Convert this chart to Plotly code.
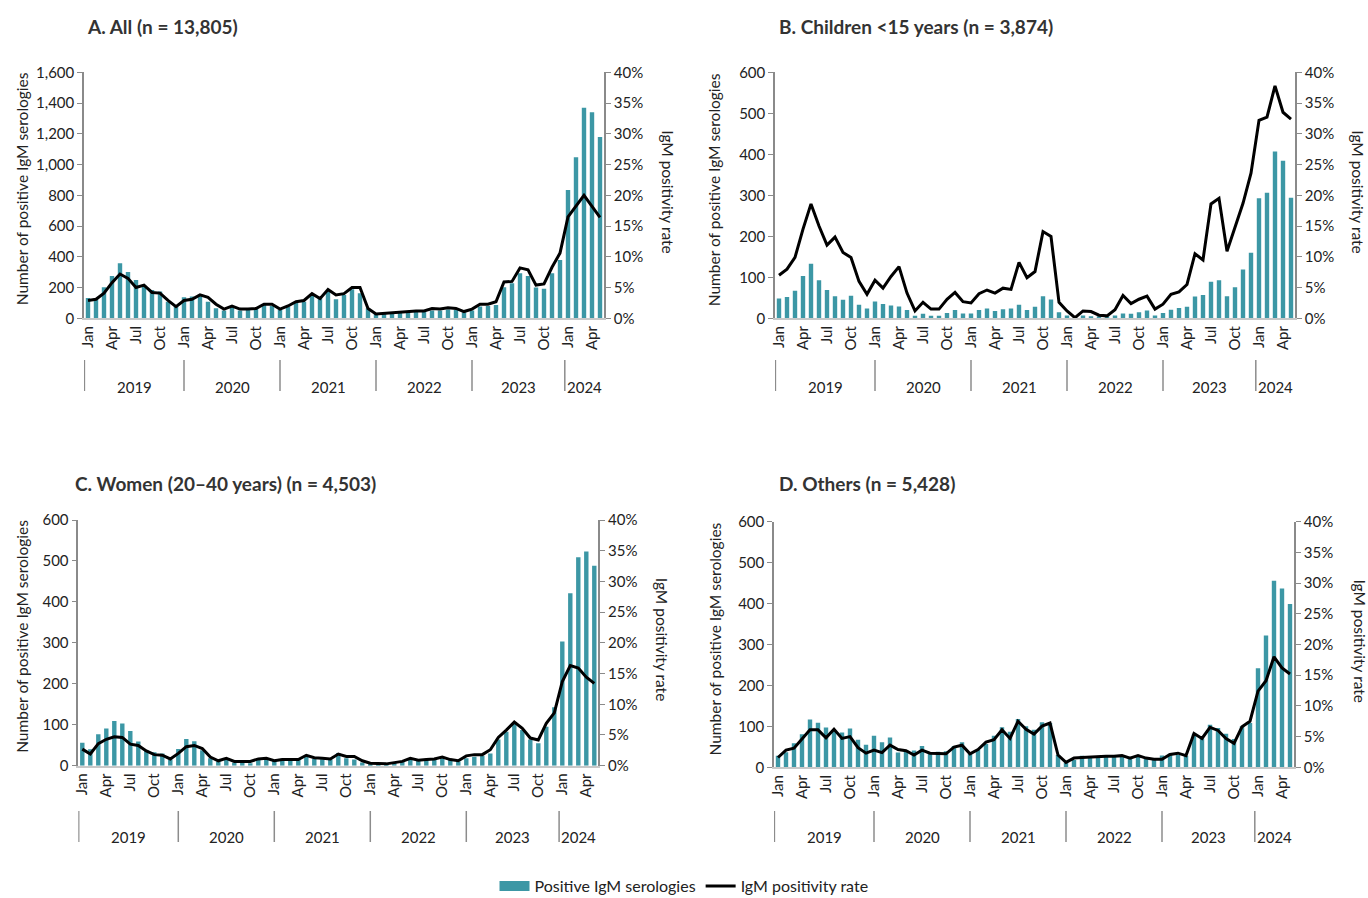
import plotly.graph_objects as go

# ---------------- data (monthly, Jan 2019 – May 2024) ----------------
years = ["2019", "2020", "2021", "2022", "2023", "2024"]
month_names = ["Jan", "Feb", "Mar", "Apr", "May", "Jun", "Jul", "Aug", "Sep", "Oct", "Nov", "Dec"]
n_months = 65

a_counts = [132, 124, 202, 275, 358, 301, 249, 206, 184, 175, 108, 80,
            137, 141, 145, 108, 65, 50, 76, 50, 58, 65, 87, 80,
            54, 76, 102, 108, 145, 130, 180, 124, 152, 189, 163, 65,
            28, 28, 37, 39, 39, 43, 46, 50, 50, 58, 54, 39,
            50, 76, 80, 87, 202, 228, 293, 275, 200, 193, 293, 380,
            835, 1047, 1370, 1340, 1179]
a_rate = [2.9, 3.1, 4.1, 5.8, 7.2, 6.5, 5.0, 5.4, 4.2, 4.1, 2.9, 1.9,
          2.9, 3.1, 3.8, 3.4, 2.3, 1.5, 2.0, 1.5, 1.5, 1.6, 2.3, 2.3,
          1.5, 2.0, 2.7, 2.9, 4.0, 3.2, 4.7, 3.8, 4.0, 5.0, 5.0, 1.6,
          0.7, 0.8, 1.0, 1.1, 1.1, 1.2, 1.2, 1.6, 1.5, 1.7, 1.6, 1.1,
          1.5, 2.3, 2.3, 2.7, 5.9, 6.0, 8.2, 7.9, 5.4, 5.6, 8.3, 10.6,
          16.5, 18.2, 20.0, 18.2, 16.4]

b_counts = [48, 52, 67, 103, 133, 93, 69, 54, 45, 55, 33, 24,
            41, 35, 31, 29, 20, 6, 11, 6, 6, 13, 20, 12,
            12, 20, 24, 18, 22, 24, 33, 20, 28, 54, 46, 15,
            7, 4, 7, 5, 3, 3, 7, 12, 11, 15, 19, 7,
            13, 21, 25, 28, 53, 57, 89, 93, 54, 76, 119, 160,
            293, 306, 407, 384, 294]
b_rate = [7.0, 8.0, 9.9, 14.5, 18.6, 15.0, 11.9, 13.2, 10.7, 9.9, 6.0, 3.9,
          6.2, 4.9, 6.8, 8.4, 4.1, 1.2, 2.6, 1.5, 1.5, 3.1, 4.2, 2.7,
          2.5, 4.0, 4.6, 4.1, 4.9, 4.7, 9.1, 6.6, 7.6, 14.1, 13.3, 2.6,
          1.2, 0.1, 1.2, 1.1, 0.5, 0.4, 1.4, 3.7, 2.4, 3.1, 3.6, 1.5,
          2.3, 3.9, 4.3, 5.5, 10.5, 9.5, 18.6, 19.5, 10.9, 14.9, 18.7, 23.6,
          32.2, 32.7, 37.8, 33.5, 32.4]

c_counts = [56, 40, 77, 91, 109, 103, 85, 59, 38, 33, 30, 15,
            41, 65, 60, 38, 18, 10, 15, 7, 8, 6, 16, 16,
            12, 17, 15, 15, 24, 17, 16, 15, 31, 18, 15, 8,
            4, 4, 4, 7, 10, 15, 12, 14, 15, 18, 14, 10,
            18, 22, 24, 30, 64, 83, 103, 87, 64, 55, 95, 143,
            303, 421, 509, 523, 488]
c_rate = [2.7, 1.9, 3.6, 4.3, 4.7, 4.6, 3.5, 3.3, 2.4, 1.8, 1.7, 1.1,
          2.0, 3.1, 3.3, 2.8, 1.4, 0.8, 1.2, 0.7, 0.7, 0.7, 1.1, 1.2,
          0.8, 1.0, 1.0, 1.0, 1.7, 1.3, 1.2, 1.1, 1.9, 1.5, 1.5, 0.8,
          0.4, 0.4, 0.3, 0.5, 0.7, 1.2, 0.9, 1.0, 1.1, 1.4, 1.0, 0.8,
          1.6, 1.8, 1.8, 2.6, 4.6, 5.8, 7.1, 6.1, 4.5, 4.2, 6.9, 8.6,
          13.7, 16.3, 15.9, 14.4, 13.4]

d_counts = [28, 37, 59, 81, 117, 109, 97, 91, 85, 95, 67, 55,
            77, 61, 73, 36, 42, 41, 52, 37, 38, 39, 52, 61,
            33, 42, 57, 77, 98, 87, 118, 100, 92, 110, 108, 30,
            11, 18, 28, 26, 26, 30, 29, 30, 26, 29, 24, 20,
            29, 33, 30, 28, 82, 71, 104, 96, 82, 69, 100, 108,
            242, 322, 456, 437, 399]
d_rate = [1.6, 2.8, 3.1, 4.6, 6.1, 6.1, 4.8, 6.2, 4.7, 5.0, 3.2, 2.3,
          2.8, 2.4, 3.6, 2.9, 2.7, 2.0, 2.8, 2.3, 2.2, 2.2, 3.3, 3.6,
          2.2, 2.9, 4.1, 4.5, 6.1, 4.7, 7.5, 6.2, 5.4, 6.7, 7.2, 2.0,
          0.8, 1.5, 1.6, 1.7, 1.7, 1.8, 1.8, 1.9, 1.5, 1.9, 1.5, 1.3,
          1.3, 2.1, 2.3, 1.9, 5.5, 4.7, 6.5, 6.0, 4.7, 3.9, 6.6, 7.5,
          12.4, 14.1, 18.0, 16.2, 15.2]

titles = ["A. All (n = 13,805)", "B. Children <15 years (n = 3,874)",
          "C. Women (20–40 years) (n = 4,503)", "D. Others (n = 5,428)"]
left_title = "Number of positive IgM serologies"
right_title = "IgM positivity rate"
bar_name = "Positive IgM serologies"
line_name = "IgM positivity rate"

# ---------------- layout helpers ----------------
W, H = 1368, 898
BAR_COLOR = "#3C97A5"
AXIS_COLOR = "#8a8a8a"
TEXT_COLOR = "#222222"
FONT = "Lato"

def px_x(p):
    return p / W

def px_y(p):
    return 1 - p / H

# panel geometry in pixels: (left, right, top, bottom)
panels = [
    dict(l=84, r=604, t=72.3, b=318.3, ymax=1600, counts=a_counts, rate=a_rate,
         title_x=85, title_y=26, lt_x=22, rt_x=668, year_y=386.7, sep_t=360, sep_b=391),
    dict(l=775, r=1295, t=72.3, b=318.3, ymax=600, counts=b_counts, rate=b_rate,
         title_x=777, title_y=26, lt_x=714, rt_x=1358, year_y=386.7, sep_t=360, sep_b=391),
    dict(l=78.3, r=598.3, t=520, b=765.7, ymax=600, counts=c_counts, rate=c_rate,
         title_x=73, title_y=483, lt_x=22, rt_x=662, year_y=837, sep_t=811, sep_b=842),
    dict(l=774, r=1294, t=521.7, b=767.3, ymax=600, counts=d_counts, rate=d_rate,
         title_x=777, title_y=483, lt_x=714, rt_x=1360, year_y=837, sep_t=811, sep_b=842),
]

x_idx = list(range(n_months))
tickvals = [i for i in x_idx if i % 3 == 0]
ticktext = [month_names[i % 12] for i in tickvals]
year_starts = [12 * k for k in range(len(years))]

fig = go.Figure()
annotations = []
shapes = []

# legend-only entries (wide swatch for the bars, line for the rate)
fig.add_trace(go.Scatter(x=[None], y=[None], mode="lines", name=bar_name,
                         line=dict(color=BAR_COLOR, width=11), showlegend=True, hoverinfo="skip"))
fig.add_trace(go.Scatter(x=[None], y=[None], mode="lines", name=line_name,
                         line=dict(color="black", width=3), showlegend=True, hoverinfo="skip"))

for k, p in enumerate(panels):
    xa = "x" if k == 0 else f"x{k + 1}"
    ya1 = f"y{2 * k + 1}" if k > 0 else "y"
    ya2 = f"y{2 * k + 2}"
    xa_key = "xaxis" if k == 0 else f"xaxis{k + 1}"
    ya1_key = "yaxis" if k == 0 else f"yaxis{2 * k + 1}"
    ya2_key = f"yaxis{2 * k + 2}"

    fig.add_trace(go.Bar(x=x_idx, y=p["counts"], name=bar_name, marker_color=BAR_COLOR,
                         marker_line_width=0, width=0.55, xaxis=xa, yaxis=ya1,
                         showlegend=False))
    fig.add_trace(go.Scatter(x=x_idx, y=[v / 100 for v in p["rate"]], name=line_name,
                             mode="lines", line=dict(color="black", width=3),
                             xaxis=xa, yaxis=ya2, showlegend=False))

    dom_x = [px_x(p["l"]), px_x(p["r"])]
    dom_y = [px_y(p["b"]), px_y(p["t"])]

    fig.layout[xa_key] = dict(domain=dom_x, anchor=ya1, range=[-0.5, n_months - 0.5],
                              tickmode="array", tickvals=tickvals, ticktext=ticktext,
                              tickangle=-90, ticks="", showgrid=False, zeroline=False,
                              showline=True, linecolor="#c8c8c8", linewidth=1.5,
                              automargin=False,
                              tickfont=dict(size=15, color=TEXT_COLOR, family=FONT))
    fig.layout[ya1_key] = dict(domain=dom_y, anchor=xa, range=[0, p["ymax"]],
                               dtick=200 if p["ymax"] > 1000 else 100,
                               tickformat=",d", ticks="outside", ticklen=5,
                               tickcolor=AXIS_COLOR, showline=True, linecolor=AXIS_COLOR,
                               linewidth=1.5, showgrid=False, zeroline=False, automargin=False,
                               tickfont=dict(size=15, color=TEXT_COLOR, family=FONT))
    fig.layout[ya2_key] = dict(overlaying=ya1, side="right", anchor=xa, range=[0, 0.4],
                               dtick=0.05, tickformat=".0%", ticks="outside", ticklen=5,
                               tickcolor=AXIS_COLOR, showline=True, linecolor=AXIS_COLOR,
                               linewidth=1.5, showgrid=False, zeroline=False, automargin=False,
                               tickfont=dict(size=15, color=TEXT_COLOR, family=FONT))

    # panel title
    annotations.append(dict(text=f"<b>{titles[k]}</b>", x=px_x(p["title_x"]), y=px_y(p["title_y"]),
                            xref="paper", yref="paper", xanchor="left", yanchor="middle",
                            showarrow=False, font=dict(size=19, color="#333333", family=FONT)))
    # axis titles
    mid_y = px_y((p["t"] + p["b"]) / 2 - 6)
    annotations.append(dict(text=left_title, x=px_x(p["lt_x"]), y=mid_y, xref="paper", yref="paper",
                            textangle=-90, showarrow=False, xanchor="center", yanchor="middle",
                            font=dict(size=15.5, color=TEXT_COLOR, family=FONT)))
    annotations.append(dict(text=right_title, x=px_x(p["rt_x"]), y=px_y((p["t"] + p["b"]) / 2 - 4),
                            xref="paper", yref="paper", textangle=90, showarrow=False,
                            xanchor="center", yanchor="middle",
                            font=dict(size=15.5, color=TEXT_COLOR, family=FONT)))

    # year group separators and labels
    seps = [-0.45] + year_starts[1:-1] + [year_starts[-1] - 0.4]
    ends = seps[1:] + [n_months - 0.5]
    for s, e, yr in zip(seps, ends, years):
        shapes.append(dict(type="line", xref=xa, yref="paper", x0=s, x1=s,
                           y0=px_y(p["sep_b"]), y1=px_y(p["sep_t"]),
                           line=dict(color="#8c8c8c", width=1.5)))
        annotations.append(dict(text=yr, x=(s + e) / 2, y=px_y(p["year_y"]), xref=xa, yref="paper",
                                showarrow=False, xanchor="center", yanchor="middle",
                                font=dict(size=15, color=TEXT_COLOR, family=FONT)))

fig.update_layout(
    width=W, height=H, autosize=False,
    margin=dict(l=0, r=0, t=0, b=0, pad=0, autoexpand=False),
    paper_bgcolor="white", plot_bgcolor="white",
    font=dict(family=FONT, color=TEXT_COLOR),
    annotations=annotations, shapes=shapes,
    legend=dict(orientation="h", x=0.5, xanchor="center", y=px_y(869), yanchor="top",
                font=dict(size=16, color=TEXT_COLOR, family=FONT), traceorder="normal",
                itemwidth=30, bgcolor="rgba(0,0,0,0)", tracegroupgap=0),
)

fig.write_html("out.html", config={"displayModeBar": False},
               post_script="document.body.style.margin='0';document.body.style.overflow='hidden';")
